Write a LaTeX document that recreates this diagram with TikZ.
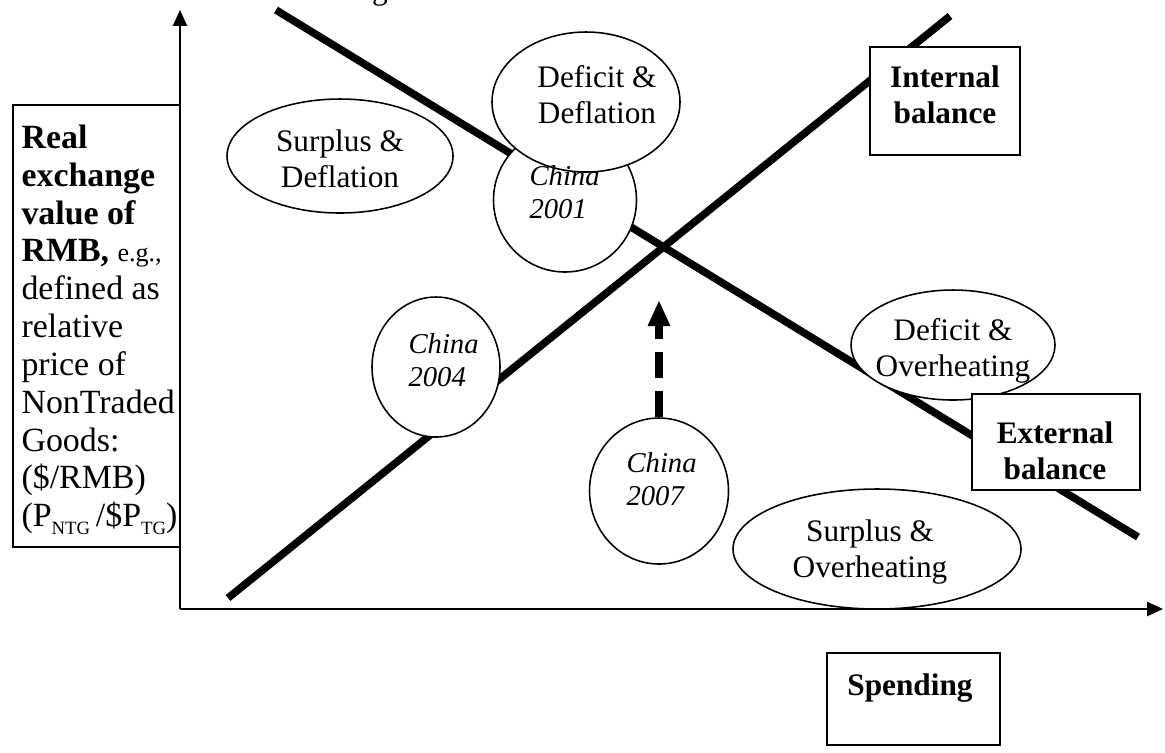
\documentclass[tikz,border=0pt]{standalone}
\usepackage{fontspec}
\setmainfont{Liberation Serif}
\usetikzlibrary{arrows.meta,shapes.geometric}
\newcommand\fl{\rule{0pt}{0.75em}}
\newcommand\pu{0.3834pt}
\newcommand\sbs[1]{\raisebox{-0.22em}{\fontsize{7.2}{8}\selectfont #1}}
\begin{document}
\begin{tikzpicture}[x=0.3834pt,y=-0.3834pt,
  axis/.style={line width=0.77pt},
  balline/.style={line width=2.9pt},
  boxsh/.style={draw, line width=0.6pt, fill=white, inner sep=0pt, rectangle},
  ell/.style={draw, line width=0.6pt, fill=white, ellipse, inner sep=0pt},
  lbl/.style={font=\fontsize{12}{13.9}\selectfont, align=center, anchor=north, inner sep=0pt},
  blbl/.style={lbl, font=\fontsize{12}{13.9}\selectfont\bfseries},
  clbl/.style={font=\fontsize{11}{12.65}\selectfont\itshape, align=left, anchor=north west, inner sep=0pt},
  ylbl/.style={font=\fontsize{13}{14.5}\selectfont, align=left, anchor=north west, inner sep=0pt},
]
\useasboundingbox (0,0) rectangle (1165,752);
% axes coordinates
\coordinate (O) at (180,609);
\coordinate (ytip) at (180,10);
\coordinate (xtip) at (1163,609);
% balance lines
\coordinate (ib1) at (228,598);
\coordinate (ib2) at (950,16);
\coordinate (eb1) at (276,10);
\coordinate (eb2) at (1138,537);

\draw[axis, -{Triangle[length=6.1pt,width=5.4pt]}] (O) -- (ytip);
\draw[balline] (ib1) -- (ib2);
\draw[balline] (eb1) -- (eb2);

% left box
\node[boxsh, minimum width=167*\pu, minimum height=442*\pu] (ybox) at (96.5,326) {};

% circles and ellipses
\node[ell, minimum width=143*\pu, minimum height=144*\pu] (c01) at (565,200) {};
\node[ell, minimum width=188*\pu, minimum height=140*\pu] (dd) at (586,102) {};
\node[ell, minimum width=128*\pu, minimum height=140*\pu] (c04) at (436,367) {};
\node[ell, minimum width=139*\pu, minimum height=146*\pu] (c07) at (659,491) {};
\node[ell, minimum width=226*\pu, minimum height=114*\pu] (sd) at (340,156) {};
\node[ell, minimum width=204*\pu, minimum height=110*\pu] (do) at (953,345) {};
\node[ell, minimum width=288*\pu, minimum height=120*\pu] (so) at (877,549) {};

% horizontal axis
\draw[axis, -{Triangle[length=6.1pt,width=5.4pt]}] (O) -- (xtip);

% balance boxes
\node[boxsh, minimum width=150*\pu, minimum height=108*\pu] (ibox) at (945,101) {};
\node[boxsh, minimum width=168*\pu, minimum height=96*\pu] (ebox) at (1056,442) {};
\node[boxsh, minimum width=173*\pu, minimum height=92*\pu] (sbox) at (913.5,699) {};

% dashed arrow
\coordinate (dtip) at (659,300);
\draw[line width=2.7pt, dash pattern=on 10pt off 5pt, -{Triangle[length=10pt,width=8pt]}] (c07.north) -- (dtip);

% labels
\node[lbl, anchor=base] (frag) at (380,-1) {g};
\node[lbl] (sdt) at (340,127) {\fl Surplus \&\\Deflation};
\node[lbl] (ddt) at (597,63.5) {\fl Deficit \&\\Deflation};
\node[lbl] (dot) at (953,316) {\fl Deficit \&\\Overheating};
\begin{scope}
\clip (700,480) rectangle (1040,583);
\node[lbl] (sot) at (870,517.5) {\fl Surplus \&\\Overheating};
\end{scope}
\node[clbl] (c01t) at (529,163.6) {\fl China\\2001};
\node[clbl] (c04t) at (408,331.6) {\fl China\\2004};
\node[clbl] (c07t) at (626,450.6) {\fl China\\2007};
\node[blbl] (ibt) at (945,63.5) {\fl Internal\\balance};
\node[blbl] (ebt) at (1055,419.5) {\fl External\\balance};
\node[blbl] (spt) at (910,671.5) {\fl Spending};
\node[ylbl] (yt) at (21,122.5) {\fl\textbf{Real}\\\textbf{exchange}\\\textbf{value of}\\\textbf{RMB,} {\fontsize{10}{12}\selectfont e.g.,}\\defined as\\relative\\price of\\NonTraded\\Goods:\\(\$/RMB)\\(P\sbs{NTG}\,/\$P\sbs{TG})};
\end{tikzpicture}
\end{document}
